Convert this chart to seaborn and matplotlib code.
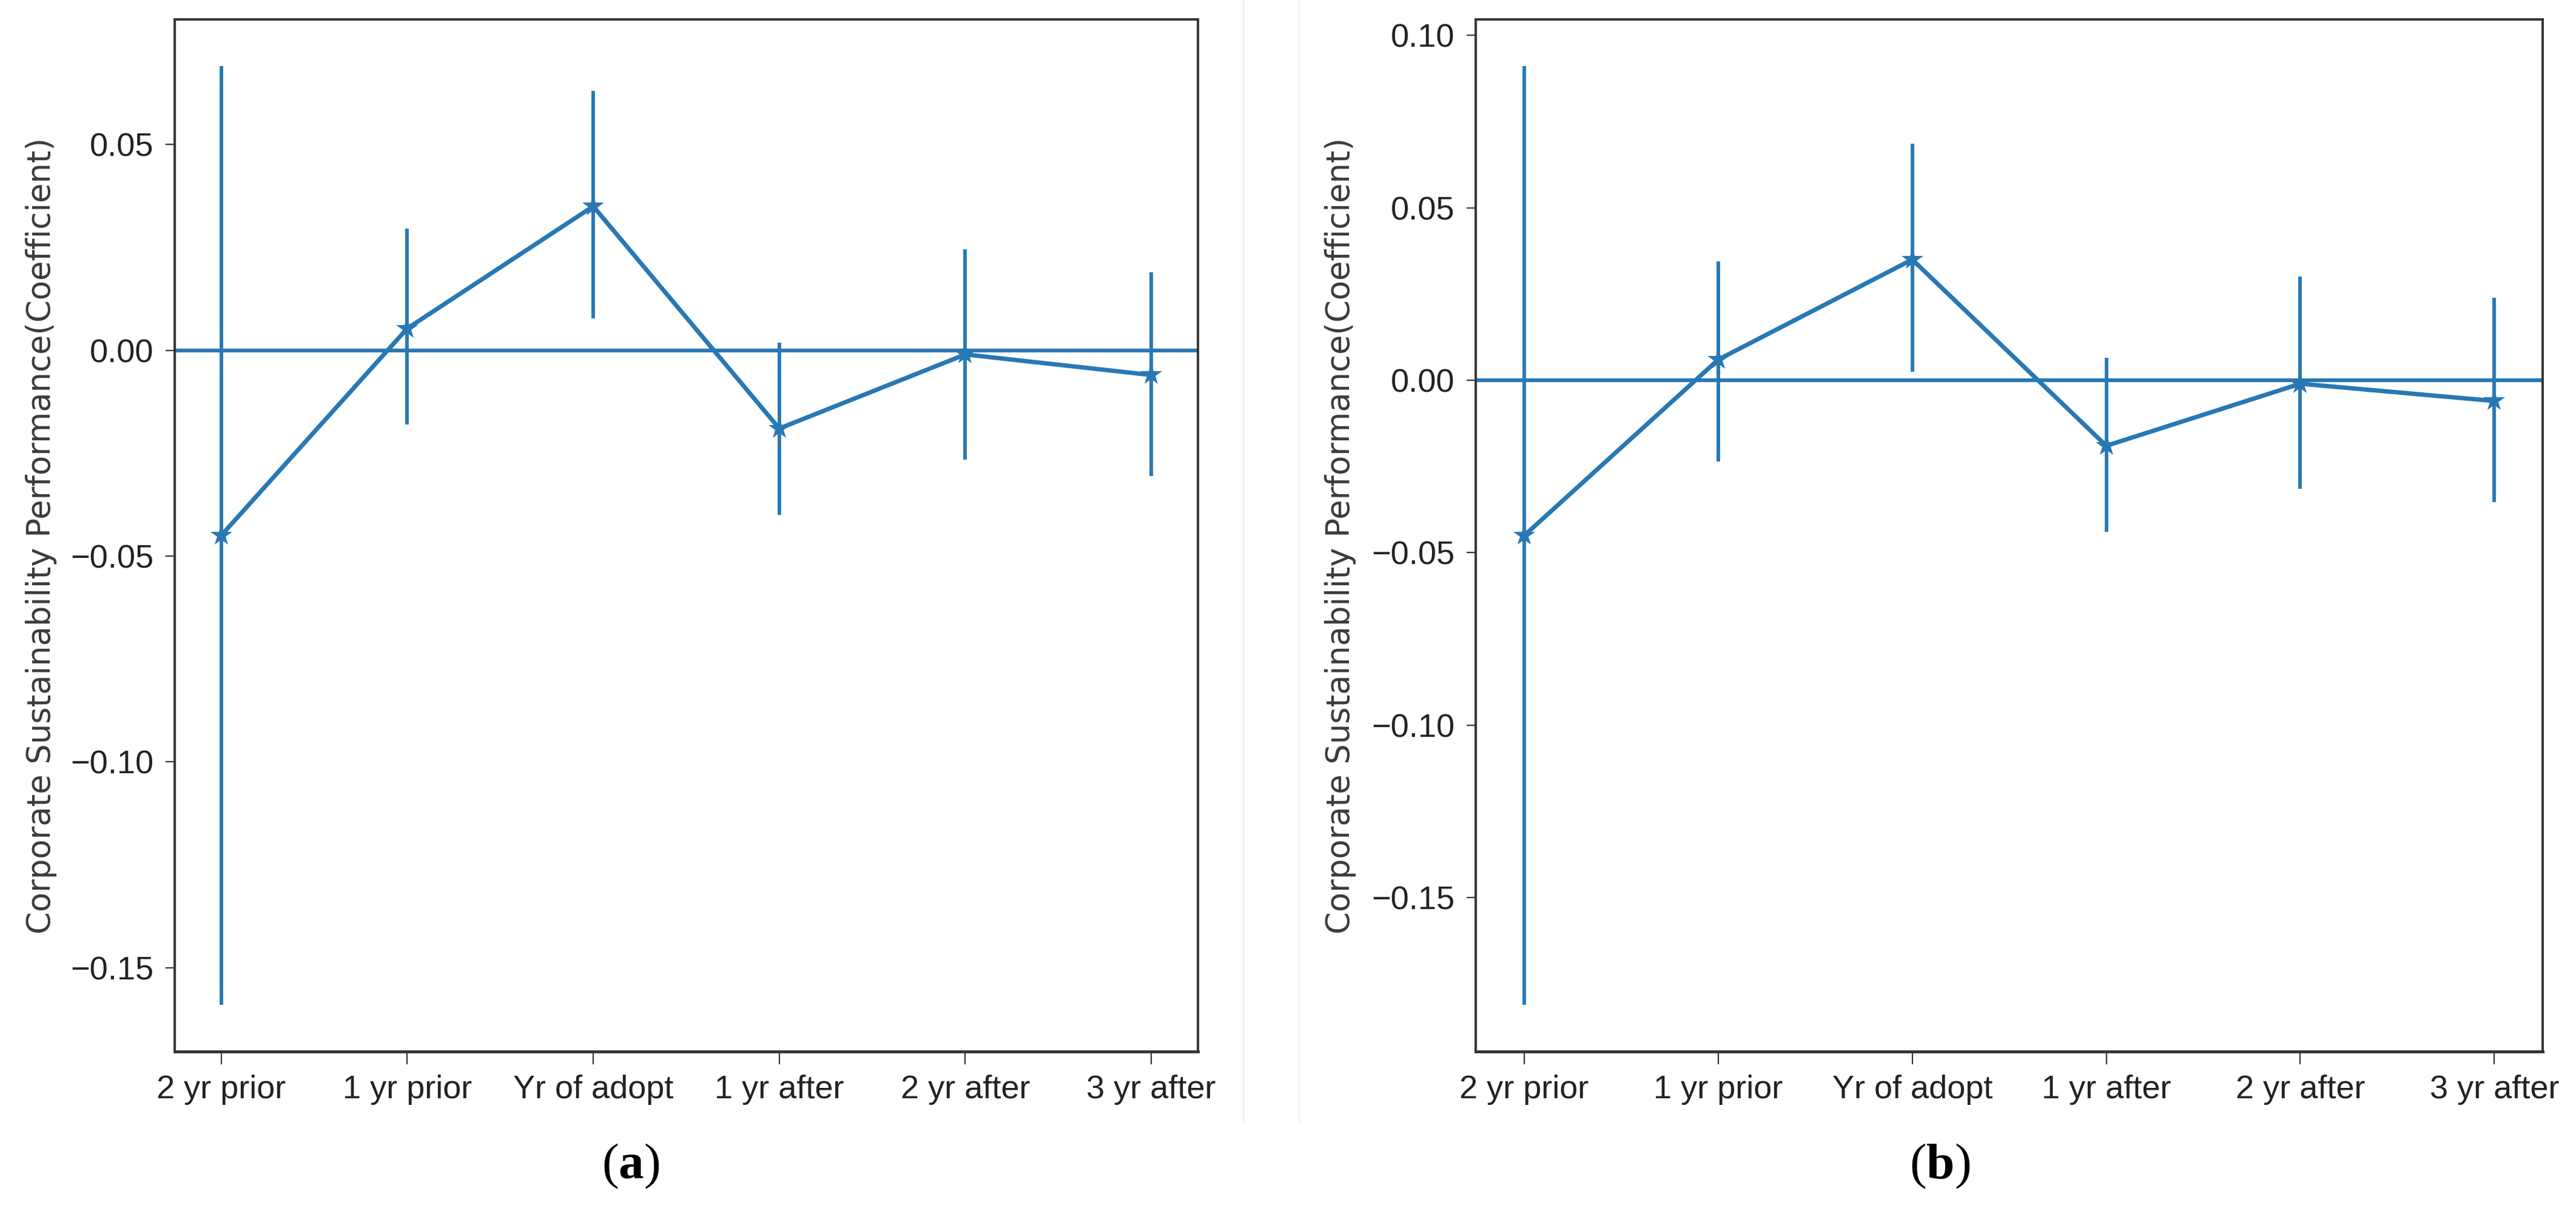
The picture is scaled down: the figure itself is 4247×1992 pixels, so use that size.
import matplotlib
matplotlib.use("Agg")
import matplotlib.pyplot as plt
from matplotlib.ticker import MultipleLocator
from matplotlib.lines import Line2D
import seaborn as sns
import pandas as pd

sns.set_theme(style="ticks")
plt.rcParams['font.family'] = ['Liberation Sans', 'DejaVu Sans']
plt.rcParams['mathtext.fontset'] = 'custom'
plt.rcParams['mathtext.rm'] = 'Liberation Serif'
plt.rcParams['mathtext.bf'] = 'Liberation Serif:bold'

periods = ['2 yr prior', '1 yr prior', 'Yr of adopt', '1 yr after', '2 yr after', '3 yr after']

# panel (a)
coef_a = [-0.045, 0.0053, 0.035, -0.019, -0.001, -0.006]
lower_a = [-0.159, -0.018, 0.0077, -0.040, -0.0265, -0.0306]
upper_a = [0.069, 0.0296, 0.063, 0.0019, 0.0246, 0.019]

# panel (b)
coef_b = [-0.045, 0.006, 0.035, -0.019, -0.001, -0.006]
lower_b = [-0.181, -0.0235, 0.0025, -0.044, -0.0315, -0.0353]
upper_b = [0.091, 0.0345, 0.0685, 0.0065, 0.030, 0.024]

blue = '#2878b4'
ylabel = 'Corporate Sustainability Performance(Coefficient)'

fig = plt.figure(figsize=(42.47, 19.92), dpi=100)
ax_a = fig.add_axes([0.0678, 0.1295, 0.3972, 0.8544])
ax_b = fig.add_axes([0.5729, 0.1295, 0.4142, 0.8544])


def draw_panel(ax, coef, lower, upper, label_x):
    df = pd.DataFrame({'pos': range(len(periods)), 'coef': coef,
                       'lower': lower, 'upper': upper})
    ax.errorbar(df['pos'], df['coef'],
                yerr=[df['coef'] - df['lower'], df['upper'] - df['coef']],
                fmt='none', ecolor=blue, elinewidth=4.2, capsize=0)
    sns.lineplot(data=df, x='pos', y='coef', ax=ax, color=blue, linewidth=5.2,
                 marker='*', markersize=27, markeredgecolor=blue, markeredgewidth=0)
    ax.axhline(0, color=blue, linewidth=4.5)

    ax.set_xticks(df['pos'])
    ax.set_xticklabels(periods)
    ax.yaxis.set_major_locator(MultipleLocator(0.05))
    ax.set_xlabel('')
    ax.set_ylabel(ylabel, family='DejaVu Sans', fontsize=38, color='#3a3a3a')
    ax.yaxis.set_label_coords(label_x, 0.5)

    ax.tick_params(axis='x', labelsize=39, length=15, width=1.5, pad=12,
                   color='#333333', labelcolor='#222222')
    ax.tick_params(axis='y', labelsize=39, length=11, width=1.5, pad=14,
                   color='#333333', labelcolor='#222222')
    for side, sp in ax.spines.items():
        sp.set_visible(True)
        sp.set_color('#333333')
        sp.set_linewidth(3.5 if side == 'bottom' else 2.8)


draw_panel(ax_a, coef_a, lower_a, upper_a, -0.115)
draw_panel(ax_b, coef_b, lower_b, upper_b, -0.112)

# faint borders between the two sub-images
for xf in (2050 / 4247, 2142 / 4247):
    fig.add_artist(Line2D([xf, xf], [1 - 1850 / 1992, 1.0], transform=fig.transFigure,
                          color='#efefef', linewidth=1.5))

fig.text(0.2449, 0.0346, r'($\mathbf{a}$)', family='Liberation Serif', fontsize=60,
         ha='center', va='center', color='black')
fig.text(0.7530, 0.0346, r'($\mathbf{b}$)', family='Liberation Serif', fontsize=60,
         ha='center', va='center', color='black')

fig.savefig('out.png', dpi=100, facecolor='white')
